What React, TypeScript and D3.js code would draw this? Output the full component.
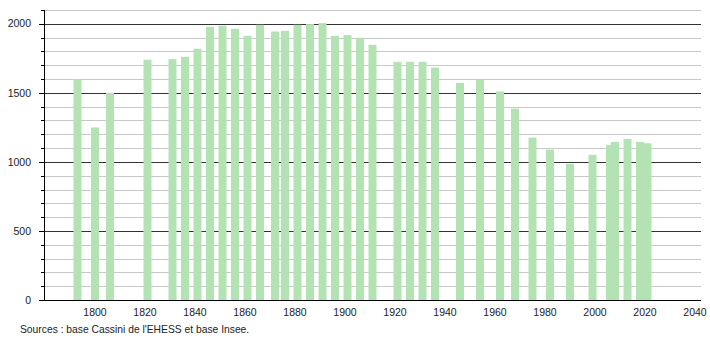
import React from "react";
import * as d3 from "d3";

const years = [1793, 1800, 1806, 1821, 1831, 1836, 1841, 1846, 1851, 1856, 1861, 1866, 1872, 1876, 1881, 1886, 1891, 1896, 1901, 1906, 1911, 1921, 1926, 1931, 1936, 1946, 1954, 1962, 1968, 1975, 1982, 1990, 1999, 2006, 2008, 2013, 2018, 2021];
const population = [1597, 1249, 1499, 1740, 1744, 1761, 1819, 1978, 1986, 1964, 1913, 1993, 1944, 1949, 1993, 1998, 2005, 1913, 1918, 1896, 1848, 1725, 1725, 1725, 1683, 1572, 1594, 1510, 1386, 1176, 1089, 986, 1051, 1123, 1145, 1167, 1145, 1135];
const xTicks = [1800, 1820, 1840, 1860, 1880, 1900, 1920, 1940, 1960, 1980, 2000, 2020, 2040];
const yMajorTicks = [0, 500, 1000, 1500, 2000];
const source = "Sources : base Cassini de l'EHESS et base Insee.";

export default function App() {
  const W = 710, H = 340;
  const left = 44, right = 701, top = 10, bottom = 300;
  const x = d3.scaleLinear().domain([1779.6, 2042.4]).range([left, right]);
  const y = d3.scaleLinear().domain([0, 2100]).range([bottom, top]);
  const minor = d3.range(100, 2101, 100).filter((v) => v % 500 !== 0);
  const allTicks = d3.range(0, 2101, 100);
  const barW = 8;
  const font = "'Liberation Sans', Arial, sans-serif";
  return (
    <svg width={W} height={H} style={{ position: "absolute", left: 0, top: 0, background: "#fff" }} fontFamily={font}>
      {minor.map((v) => (
        <line key={"m" + v} x1={left} x2={right} y1={Math.round(y(v)) + 0.5} y2={Math.round(y(v)) + 0.5} stroke="#c8c8c8" strokeWidth={1} />
      ))}
      {yMajorTicks.filter((v) => v > 0).map((v) => (
        <line key={"M" + v} x1={left} x2={right} y1={Math.round(y(v)) + 0.5} y2={Math.round(y(v)) + 0.5} stroke="#333" strokeWidth={1} />
      ))}
      {years.map((yr, i) => (
        <rect key={yr} x={x(yr) - barW / 2} y={y(population[i])} width={barW} height={bottom - y(population[i])} fill="#b3e3b3" />
      ))}
      <line x1={left + 0.5} x2={left + 0.5} y1={top} y2={bottom} stroke="#000" />
      <line x1={left - 5} x2={right} y1={bottom + 0.5} y2={bottom + 0.5} stroke="#000" />
      {allTicks.map((v) => (
        <line key={"t" + v} x1={v % 500 === 0 ? left - 5 : left - 3} x2={left} y1={Math.round(y(v)) + 0.5} y2={Math.round(y(v)) + 0.5} stroke="#000" />
      ))}
      {yMajorTicks.map((v) => (
        <text key={"yl" + v} x={31} y={y(v)} dy="0.35em" textAnchor="end" fontSize={10.5} fill="#222">{v}</text>
      ))}
      {xTicks.map((t) => (
        <text key={"xl" + t} x={x(t)} y={bottom + 12} dy="0.35em" textAnchor="middle" fontSize={10.5} fill="#222">{t}</text>
      ))}
      <text x={20} y={329} dy="0.35em" fontSize={10.3} fill="#222">{source}</text>
    </svg>
  );
}
